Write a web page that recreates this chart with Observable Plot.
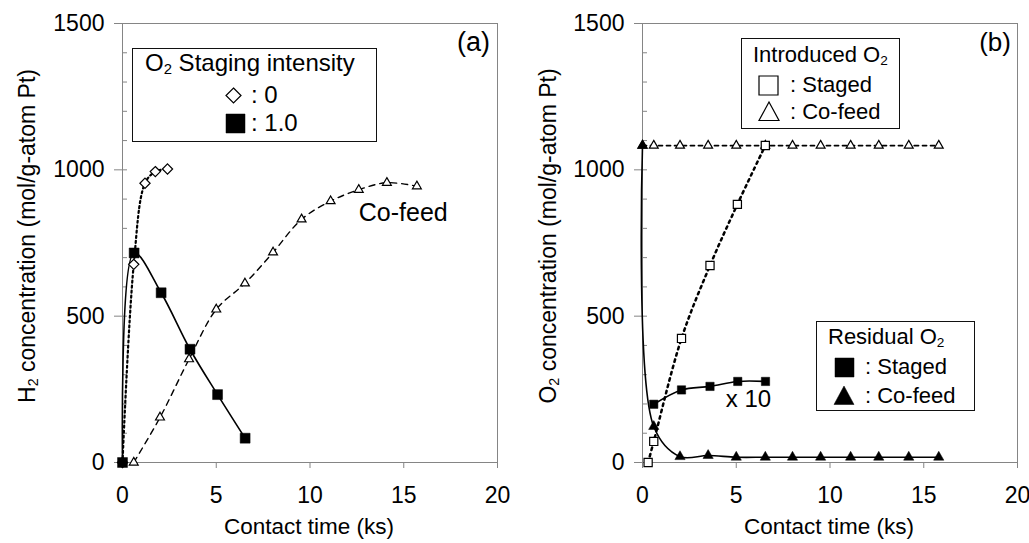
<!DOCTYPE html>
<html><head><meta charset="utf-8">
<script src="https://cdn.jsdelivr.net/npm/d3@7"></script>
<script src="https://cdn.jsdelivr.net/npm/@observablehq/plot@0.6"></script>
<style>
body{margin:0;background:#fff;font-family:"Liberation Sans",Arial,Helvetica,sans-serif;}
#wrap{position:relative;width:1029px;height:543px;overflow:hidden;background:#fff;}
#wrap > svg{position:absolute;top:0;}
.t{position:absolute;white-space:nowrap;font-size:22px;line-height:1;color:#000;transform:translateY(-50%);}
.big{font-size:24px;}
.rot{position:absolute;white-space:nowrap;font-size:23px;line-height:1;color:#000;transform:translate(-50%,-50%) rotate(-90deg);}
.ctr{position:absolute;white-space:nowrap;font-size:22.5px;line-height:1;color:#000;transform:translate(-50%,-50%);}
.box{position:absolute;border:1.3px solid #111;box-sizing:border-box;background:#fff;}
.sym{position:absolute;overflow:visible;}
sub{font-size:0.62em;vertical-align:-0.22em;line-height:0;}
</style></head>
<body><div id="wrap"></div>
<script>
// ---------- data ----------
const xTicks = [0, 5, 10, 15, 20];
const yTicks = [0, 500, 1000, 1500];
const yMinorTicks = d3.range(0, 1501, 100);

// panel (a): H2 concentration
const a_t_stage0 = [0, 0.6, 1.2, 1.75, 2.4];
const a_h_stage0 = [0, 677, 954, 994, 1003];
const a_t_stage1 = [0, 0.62, 2.06, 3.6, 5.07, 6.54];
const a_h_stage1 = [0, 716, 580, 387, 232, 83];
const a_t_cofeed = [0.6, 2.0, 3.55, 5.0, 6.53, 8.03, 9.55, 11.1, 12.6, 14.1, 15.7];
const a_h_cofeed = [0, 154, 353, 523, 612, 718, 831, 893, 932, 956, 944];

// panel (b): O2 concentration
const b_t_introStaged = [0.3, 0.6, 2.08, 3.6, 5.06, 6.55];
const b_o_introStaged = [0, 72, 424, 673, 882, 1083];
const b_t_introCofeed = [0, 0.6, 2.0, 3.5, 5.0, 6.55, 8.0, 9.5, 11.1, 12.6, 14.2, 15.8];
const b_o_introCofeed = [1083, 1083, 1083, 1083, 1083, 1083, 1083, 1083, 1083, 1083, 1083, 1083];
const b_t_resStaged = [0.6, 2.08, 3.6, 5.08, 6.56];
const b_o_resStaged = [199, 248, 260, 277, 277];
const b_t_resCofeed = [0, 0.6, 2.0, 3.5, 5.0, 6.55, 8.0, 9.5, 11.1, 12.6, 14.2, 15.8];
const b_o_resCofeed = [1083, 123, 20, 24, 18, 18, 18, 18, 18, 18, 18, 18];

// ---------- helpers ----------
const rows = (t, v) => t.map((x, i) => ({x, y: v[i]}));
const FONT = "'Liberation Sans', Arial, Helvetica, sans-serif";
const GRAY = "#858585";
const fmt = d3.format("d");

function panel(width, marginRight, marks) {
  return Plot.plot({
    width, height: 543,
    marginLeft: 122, marginRight, marginTop: 23, marginBottom: 81,
    x: {domain: [0, 20]},
    y: {domain: [0, 1500]},
    style: {fontFamily: FONT, fontSize: "23px", color: "#000", background: "transparent", overflow: "visible"},
    marks: [
      Plot.axisY(yMinorTicks, {tickSize: -5, fill: "none", stroke: GRAY, label: null, tickFormat: fmt}),
      Plot.axisY(yTicks, {tickSize: 8, tickPadding: 10, stroke: GRAY, fill: "#000", label: null, fontSize: 23, tickFormat: fmt}),
      Plot.axisX(xTicks, {tickSize: 6, tickPadding: 18, stroke: GRAY, fill: "#000", label: null, fontSize: 23, tickFormat: fmt}),
      Plot.frame({stroke: GRAY}),
      ...marks
    ]
  });
}

const lineOpts = {x: "x", y: "y", curve: "catmull-rom", stroke: "#000", fill: "none"};
const openDot = {x: "x", y: "y", fill: "#fff", stroke: "#000", strokeWidth: 1.2};
const solidDot = {x: "x", y: "y", fill: "#000", stroke: "#000", strokeWidth: 0.5};

// ---------- panel (a) ----------
const plotA = panel(520, 23, [
  Plot.line(rows(a_t_cofeed, a_h_cofeed), {...lineOpts, strokeWidth: 1.4, strokeDasharray: "6,5"}),
  Plot.line(rows(a_t_stage0, a_h_stage0), {...lineOpts, strokeWidth: 2.2, strokeDasharray: "2,3"}),
  Plot.line(rows(a_t_stage1, a_h_stage1), {...lineOpts, strokeWidth: 1.6}),
  Plot.dot(rows(a_t_cofeed, a_h_cofeed), {...openDot, symbol: "triangle", r: 3.3}),
  Plot.dot(rows(a_t_stage0, a_h_stage0), {...openDot, symbol: "diamond2", r: 4.6}),
  Plot.dot(rows(a_t_stage1, a_h_stage1), {...solidDot, symbol: "square", r: 5.6}),
  Plot.text([{x: 19.6, y: 1436, s: "(a)"}], {x: "x", y: "y", text: "s", textAnchor: "end", fontSize: 27, fill: "#000"}),
  Plot.text([{x: 12.6, y: 854, s: "Co-feed"}], {x: "x", y: "y", text: "s", textAnchor: "start", fontSize: 25, fill: "#000"})
]);
plotA.style.left = "0px";

// ---------- panel (b) ----------
const plotB = panel(509, 12, [
  Plot.line(rows(b_t_introCofeed, b_o_introCofeed), {...lineOpts, strokeWidth: 1.8, strokeDasharray: "4,4"}),
  Plot.line(rows(b_t_introStaged, b_o_introStaged), {...lineOpts, strokeWidth: 2.5, strokeDasharray: "2.5,4"}),
  Plot.line(rows(b_t_resStaged, b_o_resStaged), {...lineOpts, strokeWidth: 1.6}),
  Plot.line(rows(b_t_resCofeed, b_o_resCofeed), {...lineOpts, strokeWidth: 1.6}),
  Plot.dot(rows(b_t_introCofeed, b_o_introCofeed), {...openDot, symbol: "triangle", r: 3.3}),
  Plot.dot(rows(b_t_introStaged, b_o_introStaged), {...openDot, symbol: "square", r: 4.6}),
  Plot.dot(rows(b_t_resStaged, b_o_resStaged), {...solidDot, symbol: "square", r: 4.7}),
  Plot.dot(rows(b_t_resCofeed, b_o_resCofeed), {...solidDot, symbol: "triangle", r: 3.8}),
  Plot.text([{x: 19.65, y: 1436, s: "(b)"}], {x: "x", y: "y", text: "s", textAnchor: "end", fontSize: 26, fill: "#000"}),
  Plot.text([{x: 4.44, y: 215, s: "x 10"}], {x: "x", y: "y", text: "s", textAnchor: "start", fontSize: 24, fill: "#000"})
]);
plotB.style.left = "520px";

const wrap = document.getElementById("wrap");
wrap.appendChild(plotA);
wrap.appendChild(plotB);

// ---------- overlays: axis titles and legends ----------
function el(cls, html, left, top) {
  const d = document.createElement("div");
  d.className = cls; d.innerHTML = html;
  d.style.left = left + "px"; d.style.top = top + "px";
  wrap.appendChild(d); return d;
}
function box(left, top, w, h) {
  const d = document.createElement("div");
  d.className = "box";
  Object.assign(d.style, {left: left + "px", top: top + "px", width: w + "px", height: h + "px"});
  wrap.appendChild(d);
}
function sym(kind, cx, cy, s, filled) {
  const ns = "http://www.w3.org/2000/svg";
  const svg = document.createElementNS(ns, "svg");
  svg.setAttribute("class", "sym");
  svg.setAttribute("width", s + 4); svg.setAttribute("height", s + 4);
  svg.style.left = (cx - s / 2 - 2) + "px"; svg.style.top = (cy - s / 2 - 2) + "px";
  const p = document.createElementNS(ns, "path");
  const c = s / 2 + 2, h = s / 2;
  let d;
  if (kind === "square") d = `M${c-h},${c-h}H${c+h}V${c+h}H${c-h}Z`;
  else if (kind === "diamond") d = `M${c},${c-h}L${c+h},${c}L${c},${c+h}L${c-h},${c}Z`;
  else d = `M${c},${c-h}L${c+h},${c+h*0.85}L${c-h},${c+h*0.85}Z`;
  p.setAttribute("d", d);
  p.setAttribute("fill", filled ? "#000" : "#fff");
  p.setAttribute("stroke", "#000");
  p.setAttribute("stroke-width", filled ? 0.5 : 1.2);
  svg.appendChild(p);
  wrap.appendChild(svg);
}

// axis titles
el("rot", "H<sub>2</sub> concentration (mol/g-atom Pt)", 27, 236);
el("ctr", "Contact time (ks)", 309, 527);
el("rot", "O<sub>2</sub> concentration (mol/g-atom Pt)", 548, 236);
el("ctr", "Contact time (ks)", 829, 527);

// legend (a)
box(132, 48, 245, 94);
el("t big", "O<sub>2</sub> Staging intensity", 145, 63);
sym("diamond", 233, 95, 15, false);
el("t big", ":&nbsp;0", 251, 95);
sym("square", 235.5, 123, 19, true);
el("t big", ":&nbsp;1.0", 251, 123);

// legend (b) introduced
box(741, 38, 159, 91);
el("t", "Introduced O<sub>2</sub>", 753, 55);
sym("square", 768.5, 85, 19, false);
el("t", ":&nbsp;Staged", 790, 85);
sym("triangle", 769, 112, 20, false);
el("t", ":&nbsp;Co-feed", 790, 112);

// legend (b) residual
box(816, 321, 159, 90);
el("t", "Residual O<sub>2</sub>", 828, 337);
sym("square", 844, 367.5, 19, true);
el("t", ":&nbsp;Staged", 865, 367);
sym("triangle", 844, 396, 20, true);
el("t", ":&nbsp;Co-feed", 865, 396);
</script>
</body></html>
